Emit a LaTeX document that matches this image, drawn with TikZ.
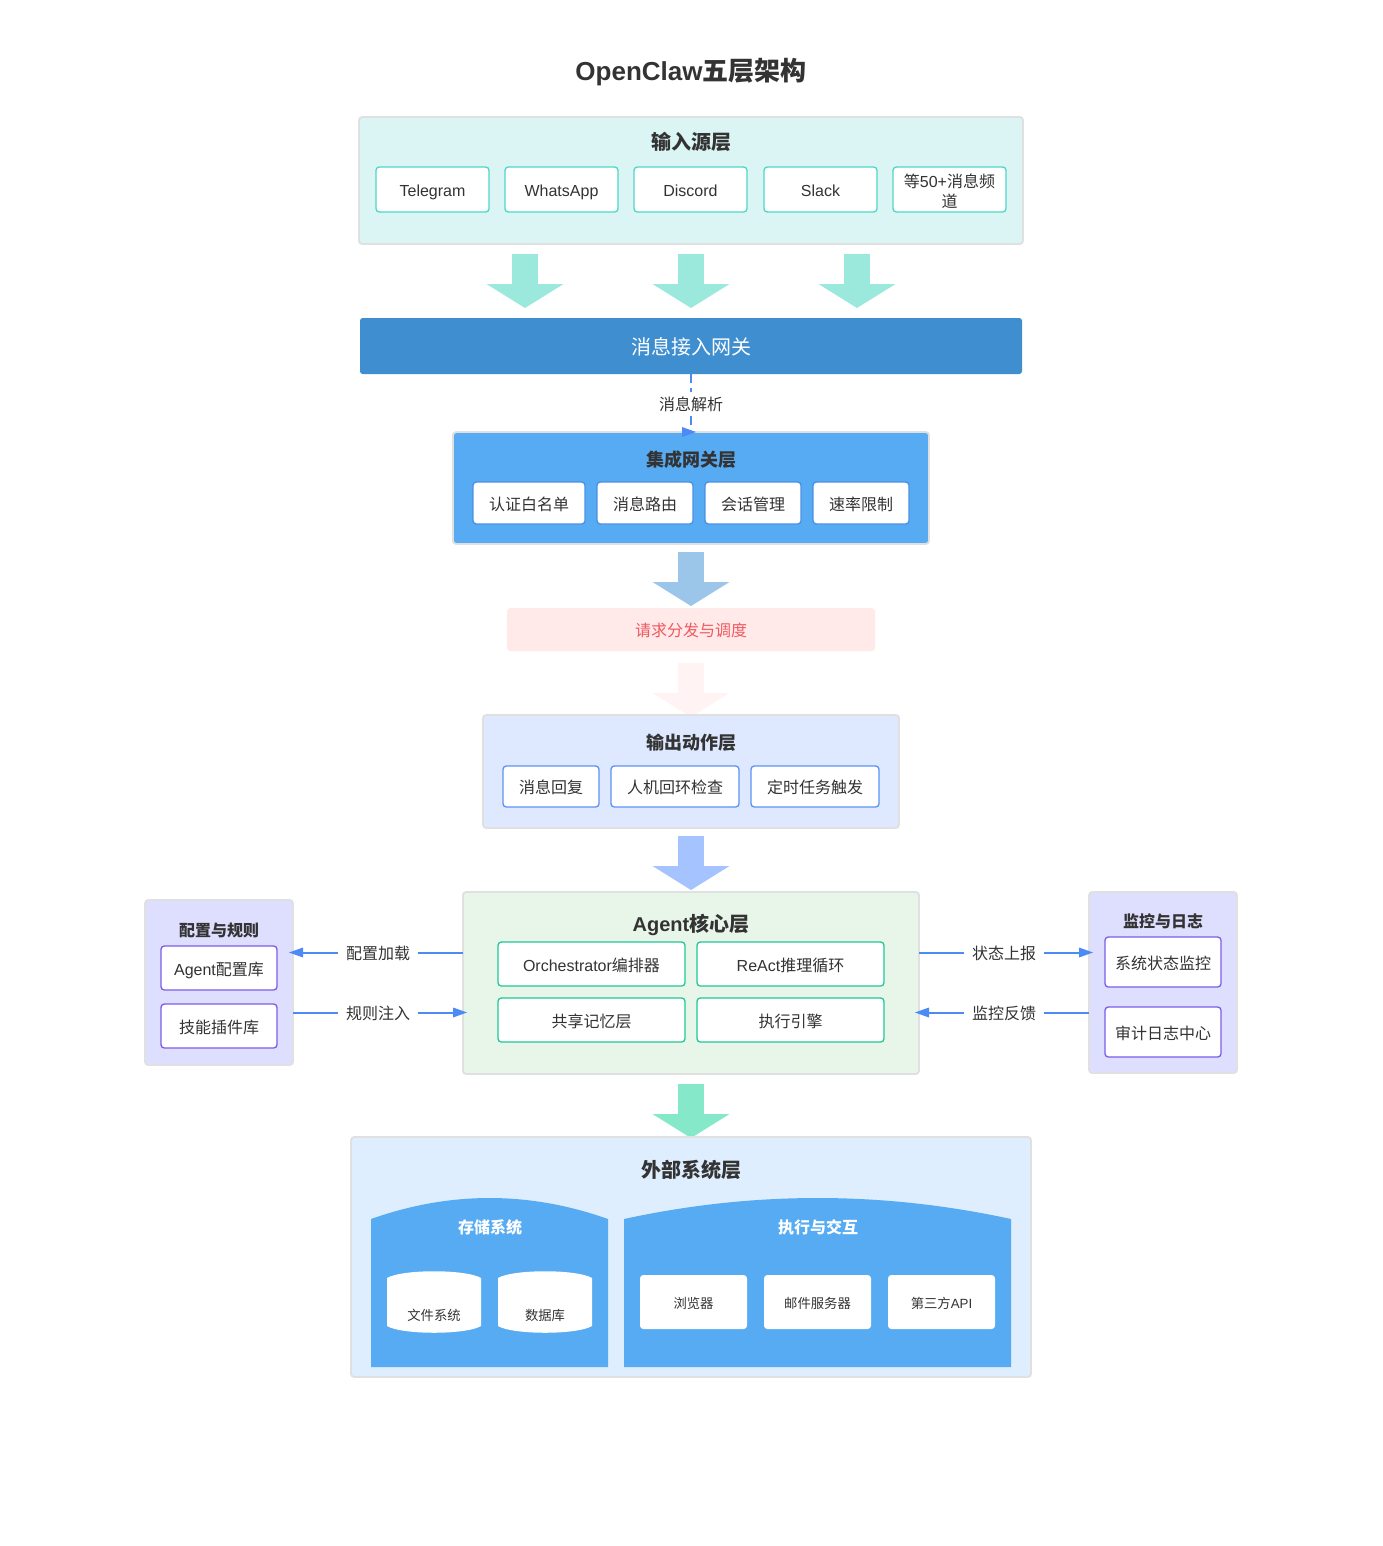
\documentclass[tikz,border=0pt]{standalone}
\usepackage{fontspec}
\setmainfont{Noto Sans CJK SC}
\newfontfamily\lat{Liberation Sans}
\usetikzlibrary{arrows.meta,calc}
\definecolor{ink}{HTML}{333333}
\definecolor{edge}{HTML}{E0E0E0}
\definecolor{flow}{HTML}{4C8BF5}
\definecolor{skyfill}{HTML}{56ABF3}
\definecolor{arrowteal}{HTML}{9BE8DC}
\definecolor{arrowblue}{HTML}{9CC6E9}
\definecolor{arrowpink}{HTML}{FFF3F3}
\definecolor{arrowperi}{HTML}{A5C4FF}
\definecolor{arrowgreen}{HTML}{85E8C9}
\definecolor{inputfill}{HTML}{DAF5F4}
\definecolor{gatefill}{HTML}{3E8ED0}
\definecolor{pinkfill}{HTML}{FFE9E9}
\definecolor{pinktext}{HTML}{F0595F}
\definecolor{outfill}{HTML}{DEE8FE}
\definecolor{corefill}{HTML}{E8F5E9}
\definecolor{sidefill}{HTML}{DEDEFF}
\definecolor{extfill}{HTML}{DEEEFE}
\definecolor{teal2}{HTML}{4FD6C8}
\definecolor{bluea}{HTML}{4A90E2}
\definecolor{blueb}{HTML}{5B93F5}
\definecolor{greenb}{HTML}{20C997}
\definecolor{violet2}{HTML}{7C5CEB}
\tikzset{
  layer/.style={draw=edge,line width=1.4pt,rounded corners=2.5pt,inner sep=0pt,outer sep=0pt},
  item/.style={draw=#1,fill=white,line width=1pt,rounded corners=2.5pt,inner sep=0pt,outer sep=0pt,text=ink,align=center,text height=13pt,text depth=2pt,font=\fontsize{12}{15}\selectfont},
  ttl/.style={text=ink,inner sep=0pt,font=\fontsize{#1}{#1}\selectfont\bfseries},
  lbl/.style={fill=white,text=ink,inner sep=0pt,outer sep=0pt,minimum width=60pt,minimum height=18pt,font=\fontsize{12}{14.5}\selectfont},
  bigarrow/.style={draw=#1,line width=19.5pt,-{Triangle[length=18pt,width=57.75pt,line width=0pt]}},
  conn/.style={draw=flow,line width=1.5pt,-{Triangle[length=10.5pt,width=7.5pt,line width=0pt]}},
  white box/.style={fill=white,rounded corners=2.5pt,inner sep=0pt,outer sep=0pt,text=ink,text height=11pt,text depth=1.2pt,font=\fontsize{10}{12}\selectfont},
}
\newcommand\bx[7]{\node[#6,minimum width={(#4-#2)*.75pt},minimum height={(#5-#3)*.75pt}] (#1) at ({(#2+#4)/2},{(#3+#5)/2}) {#7};}
\newcommand\bigarr[5]{\coordinate (#1s) at (#2,#3); \coordinate (#1e) at (#2,#4); \draw[bigarrow=#5] (#1s) -- (#1e);}
\begin{document}
\begin{tikzpicture}[x=.75pt,y=-.75pt]
\useasboundingbox[fill=white] (0,0) rectangle (1382,1546);
\node[ttl=19.5] (title) at (691,72) {{\lat OpenClaw}五层架构};

% big arrows under the boxes
\bigarr{aa}{525}{254}{308}{arrowteal}
\bigarr{ab}{691}{254}{308}{arrowteal}
\bigarr{ac}{857}{254}{308}{arrowteal}
\bigarr{ad}{691}{552}{606}{arrowblue}
\bigarr{ae}{691}{663}{717}{arrowpink}
\bigarr{af}{691}{836}{890}{arrowperi}
\bigarr{ag}{691}{1084}{1138}{arrowgreen}

% input layer
\bx{input}{359}{117}{1023}{244}{layer,fill=inputfill}{}
\node[ttl=15] (inputt) at (691,142) {输入源层};
\bx{tg}{376}{167}{489}{212}{item=teal2}{{\lat Telegram}}
\bx{wa}{505}{167}{618}{212}{item=teal2}{{\lat WhatsApp}}
\bx{dc}{634}{167}{747}{212}{item=teal2}{{\lat Discord}}
\bx{sl}{764}{167}{877}{212}{item=teal2}{{\lat Slack}}
\bx{more}{893}{167}{1006}{212}{item=teal2,text height=,text depth=}{\rule{0pt}{13.5pt}等{\lat 50+}消息频\\道}

% gateway
\bx{gw}{360}{318}{1022}{374}{fill=gatefill,rounded corners=2pt,inner sep=0pt,outer sep=0pt,text=white,text height=14.9pt,text depth=2pt,font=\fontsize{15}{18}\selectfont}{消息接入网关}

% integration layer
\bx{integ}{453}{432}{929}{544}{layer,fill=skyfill}{}
\node[ttl=13.5] (integt) at (691,460) {集成网关层};
\bx{auth}{473}{482}{585}{524}{item=bluea}{认证白名单}
\bx{route}{597}{482}{693}{524}{item=bluea}{消息路由}
\bx{sess}{705}{482}{801}{524}{item=bluea}{会话管理}
\bx{rate}{813}{482}{909}{524}{item=bluea}{速率限制}

% parse connector
\coordinate (parseend) at (691,426);
\draw[draw=flow,line width=1.5pt,dash pattern=on 6.75pt off 3.75pt] (gw.south) -- (parseend);
\node[lbl,minimum height=18pt] (parse) at (691,404) {消息解析};
\coordinate (parsetip) at (696,432);
\fill[flow] (682,427) -- (parsetip) -- (682,437) -- cycle;

% dispatch
\bx{disp}{507}{608}{875}{651}{fill=pinkfill,rounded corners=2.5pt,inner sep=0pt,outer sep=0pt,text=pinktext,text height=12.6pt,text depth=2pt,font=\fontsize{12}{14.5}\selectfont}{请求分发与调度}

% output layer
\bx{outp}{483}{715}{899}{828}{layer,fill=outfill}{}
\node[ttl=13.5] (outpt) at (691,743) {输出动作层};
\bx{rep}{503}{766}{599}{807}{item=blueb}{消息回复}
\bx{hitl}{611}{766}{739}{807}{item=blueb}{人机回环检查}
\bx{cron}{751}{766}{879}{807}{item=blueb}{定时任务触发}

% core
\bx{core}{463}{892}{919}{1074}{layer,fill=corefill}{}
\node[ttl=15] (coret) at (691,925) {{\lat Agent}核心层};
\bx{orch}{498}{942}{685}{986}{item=greenb}{{\lat Orchestrator}编排器}
\bx{react}{697}{942}{884}{986}{item=greenb}{{\lat ReAct}推理循环}
\bx{mem}{498}{998}{685}{1042}{item=greenb}{共享记忆层}
\bx{exec}{697}{998}{884}{1042}{item=greenb}{执行引擎}

% left
\bx{cfg}{145}{900}{293}{1065}{layer,fill=sidefill}{}
\node[ttl=12] (cfgt) at (219,930) {配置与规则};
\bx{acfg}{161}{946}{277}{990}{item=violet2}{{\lat Agent}配置库}
\bx{skill}{161}{1004}{277}{1048}{item=violet2}{技能插件库}

% right
\bx{mon}{1089}{892}{1237}{1073}{layer,fill=sidefill}{}
\node[ttl=12] (mont) at (1163,921) {监控与日志};
\bx{sys}{1105}{937}{1221}{987}{item=violet2}{系统状态监控}
\bx{audit}{1105}{1007}{1221}{1057}{item=violet2}{审计日志中心}

% side connectors
\coordinate (t1) at (289,952.5);
\coordinate (t2) at (467,1012.5);
\coordinate (t3) at (1093,952.5);
\coordinate (t4) at (915,1012.5);
\draw[conn] (core.west |- t1) -- (t1);
\draw[conn] (cfg.east |- t2) -- (t2);
\draw[conn] (core.east |- t3) -- (t3);
\draw[conn] (mon.west |- t4) -- (t4);
\node[lbl] (l1) at (378,953) {配置加载};
\node[lbl] (l2) at (378,1013) {规则注入};
\node[lbl] (l3) at (1004,953) {状态上报};
\node[lbl] (l4) at (1004,1013) {监控反馈};

% external
\bx{ext}{351}{1137}{1031}{1377}{layer,fill=extfill}{}
\node[ttl=15] (extt) at (691,1170) {外部系统层};
\fill[skyfill] (371,1219) .. controls (450,1191) and (529,1191) .. (608,1219) -- (608,1367) -- (371,1367) -- cycle;
\fill[skyfill] (624,1219) .. controls (753,1191) and (882,1191) .. (1011,1219) -- (1011,1367) -- (624,1367) -- cycle;
\node[text=white,inner sep=0pt,font=\fontsize{12}{14}\selectfont\bfseries] (stor) at (490,1227) {存储系统};
\node[text=white,inner sep=0pt,font=\fontsize{12}{14}\selectfont\bfseries] (execi) at (818,1227) {执行与交互};
\fill[white] (387,1278) .. controls (402,1269) and (466,1269) .. (481,1278) -- (481,1326) .. controls (466,1335) and (402,1335) .. (387,1326) -- cycle;
\fill[white] (498,1278) .. controls (513,1269) and (577,1269) .. (592,1278) -- (592,1326) .. controls (577,1335) and (513,1335) .. (498,1326) -- cycle;
\node[text=ink,inner sep=0pt,font=\fontsize{10}{12}\selectfont] (fs) at (434,1315) {文件系统};
\node[text=ink,inner sep=0pt,font=\fontsize{10}{12}\selectfont] (db) at (545,1315) {数据库};
\bx{br}{640}{1275}{747}{1329}{white box}{浏览器}
\bx{ml}{764}{1275}{871}{1329}{white box}{邮件服务器}
\bx{api}{888}{1275}{995}{1329}{white box}{第三方{\lat API}}
\end{tikzpicture}
\end{document}
